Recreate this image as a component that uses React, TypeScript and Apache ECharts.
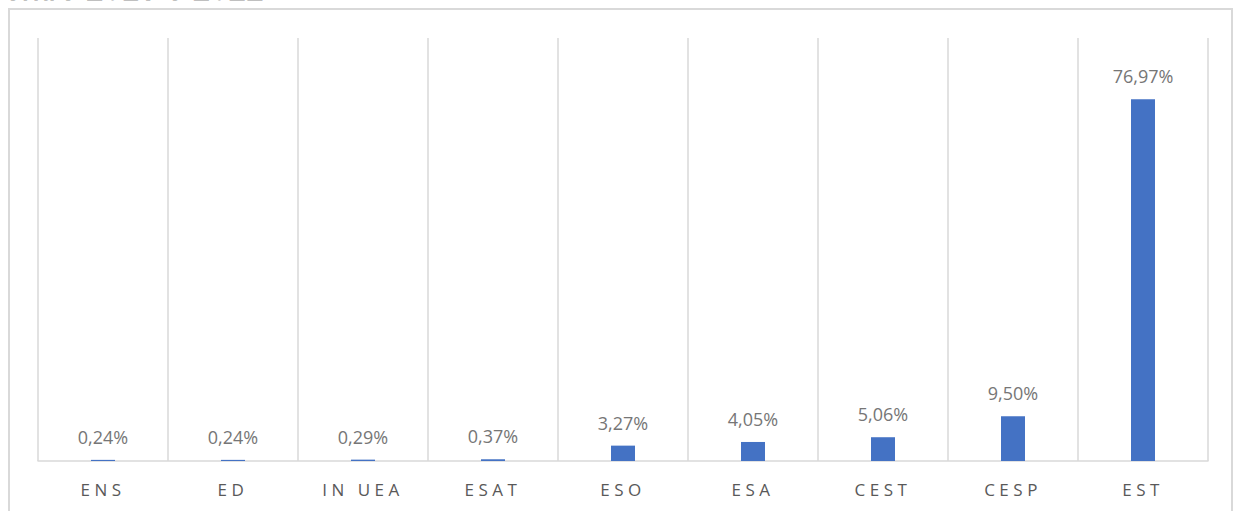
import React, { useEffect, useRef } from "react";
import * as echarts from "echarts";

const categories = ["ENS", "ED", "IN UEA", "ESAT", "ESO", "ESA", "CEST", "CESP", "EST"];
const values = [0.24, 0.24, 0.29, 0.37, 3.27, 4.05, 5.06, 9.5, 76.97];
const titleText = "entre 2018 e 2022";

const fmt = (v: number) => v.toFixed(2).replace(".", ",") + "%";

export default function App() {
  const ref = useRef<HTMLDivElement>(null);
  useEffect(() => {
    if (!ref.current) return;
    const chart = echarts.init(ref.current, undefined, { renderer: "svg" });
    chart.setOption({
      animation: false,
      backgroundColor: "#ffffff",
      graphic: [
        {
          type: "rect",
          shape: { x: 9, y: 9, width: 1223, height: 520 },
          style: { fill: "none", stroke: "#d9d9d9", lineWidth: 2 },
          silent: true,
        },
        {
          type: "text",
          x: 4,
          y: -27,
          style: {
            text: titleText,
            fill: "#000000",
            font: "32px 'Liberation Sans', Arial, sans-serif",
            textVerticalAlign: "top",
            stroke: "#000000",
            lineWidth: 0.6,
          },
        },
      ],
      grid: { left: 38, right: 29, top: 38, bottom: 50, containLabel: false },
      xAxis: {
        type: "category",
        data: categories,
        boundaryGap: true,
        axisLine: { show: true, lineStyle: { color: "#d9d9d9", width: 1.5 } },
        axisTick: { show: false },
        splitLine: { show: true, lineStyle: { color: "#d9d9d9", width: 1.5 } },
        axisLabel: {
          color: "#595959",
          fontSize: 17,
          fontFamily: "'Open Sans', sans-serif",
          margin: 20,
          interval: 0,
        },
      },
      yAxis: {
        type: "value",
        min: 0,
        max: 90,
        show: false,
        splitLine: { show: false },
      },
      series: [
        {
          type: "bar",
          data: values,
          barWidth: 24,
          itemStyle: { color: "#4472C4" },
          label: {
            show: true,
            position: "top",
            distance: 14,
            color: "#767676",
            fontSize: 18,
            fontFamily: "'Open Sans', sans-serif",
            formatter: (p: any) => fmt(p.value),
          },
        },
      ],
    });
    return () => chart.dispose();
  }, []);
  return (
    <>
      <style>{`text[fill="#595959"] { letter-spacing: 4.5px; }`}</style>
      <div
        ref={ref}
        style={{ position: "fixed", left: 0, top: 0, width: 1237, height: 511 }}
      />
    </>
  );
}
